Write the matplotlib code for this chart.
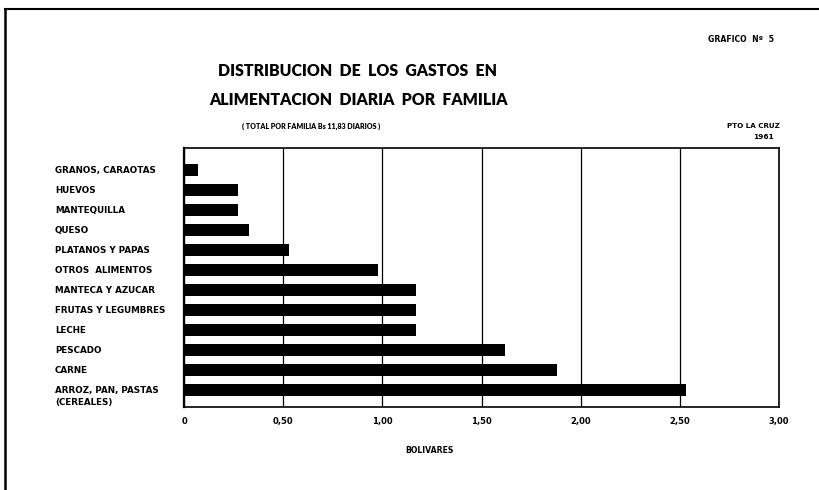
import matplotlib
matplotlib.use("Agg")
import matplotlib.pyplot as plt
from matplotlib.lines import Line2D
import matplotlib.transforms as mtransforms

categories = [
    "GRANOS, CARAOTAS",
    "HUEVOS",
    "MANTEQUILLA",
    "QUESO",
    "PLATANOS Y PAPAS",
    "OTROS  ALIMENTOS",
    "MANTECA Y AZUCAR",
    "FRUTAS Y LEGUMBRES",
    "LECHE",
    "PESCADO",
    "CARNE",
    "ARROZ, PAN, PASTAS\n(CEREALES)",
]
values = [0.07, 0.27, 0.27, 0.33, 0.53, 0.98, 1.17, 1.17, 1.17, 1.62, 1.88, 2.53]
xticks = [0, 0.5, 1.0, 1.5, 2.0, 2.5, 3.0]
xticklabels = ["0", "0,50", "1,00", "1,50", "2,00", "2,50", "3,00"]

W, H = 819, 490
fig = plt.figure(figsize=(W / 100, H / 100), dpi=100)
fig.patch.set_facecolor("white")

ax = fig.add_axes([184 / W, 1 - 407 / H, (779 - 184) / W, (407 - 148) / H])
pos = list(range(len(categories)))
ax.barh(pos, values, height=0.56, color="black", zorder=3)
ax.set_xlim(0, 3)
ax.set_ylim(11.85, -1.1)
ax.set_xticks(xticks)
ax.set_xticklabels(xticklabels, fontsize=6, fontweight="bold")
ax.tick_params(axis="x", length=0, pad=7)
ax.set_yticks([])
ax.grid(axis="x", color="black", linewidth=0.9, zorder=1)
for s in ax.spines.values():
    s.set_color("black")
    s.set_linewidth(1.2)
ax.spines["left"].set_linewidth(1.6)

trans = mtransforms.blended_transform_factory(fig.transFigure, ax.transData)
for i, c in enumerate(categories):
    lines = c.split("\n")
    for j, ln in enumerate(lines):
        ax.text(55 / W, i + j * 0.6, ln, transform=trans, ha="left", va="center",
                fontsize=6.3, fontweight="bold", color="black")

ax.set_xlabel("BOLIVARES", fontsize=5.6, fontweight="bold")
ax.xaxis.set_label_coords((429 - 184) / (779 - 184), -(446 - 407) / (407 - 148))

def ftext(x, y, s, size, family=None, weight="bold", **kw):
    kws = dict(fontsize=size, fontweight=weight, ha=kw.pop("ha", "center"),
               va="center", color="black")
    if family:
        kws["family"] = family
    fig.text(x / W, 1 - y / H, s, **kws, **kw)

title_font = ["Lato", "DejaVu Sans"]
ftext(357, 71, "DISTRIBUCION  DE  LOS  GASTOS  EN", 11.4, family=title_font, weight="heavy")
ftext(358, 100, "ALIMENTACION  DIARIA  POR  FAMILIA", 11.4, family=title_font, weight="heavy")
ftext(311, 126, "( TOTAL POR FAMILIA Bs 11,83 DIARIOS )", 5.1, family=title_font, weight="heavy")
ftext(741, 40, "GRAFICO  Nº  5", 5.6)
ftext(753, 126, "PTO LA CRUZ", 5.1)
ftext(763, 137, "1961", 5.3)

# page frame lines
fig.add_artist(Line2D([5 / W, 5 / W], [0, 1 - 9 / H], transform=fig.transFigure,
                      color="black", linewidth=1.8))
fig.add_artist(Line2D([5 / W, 1], [1 - 9 / H, 1 - 9 / H], transform=fig.transFigure,
                      color="black", linewidth=1.5))

fig.savefig("out.png", dpi=100, facecolor="white")
